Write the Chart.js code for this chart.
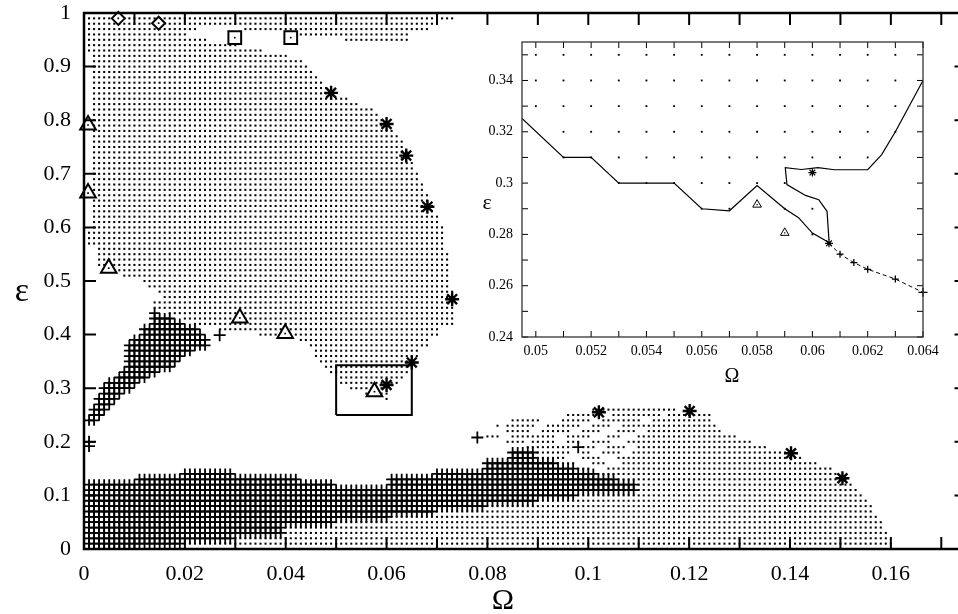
<!DOCTYPE html>
<html>
<head>
<meta charset="utf-8">
<title>Ω–ε map</title>
<script src="https://cdn.jsdelivr.net/npm/chart.js@4.4.1/dist/chart.umd.min.js"></script>
<style>
  html, body { margin:0; padding:0; background:#fff; overflow:hidden; }
  #stage { position:relative; width:958px; height:614px; overflow:hidden; background:#fff; }
  #mainBox { position:absolute; left:0; top:0; width:980px; height:614px; }
  #insetBox { position:absolute; left:460px; top:30px; width:490px; height:365px; }
</style>
</head>
<body>
<div id="stage">
  <div id="mainBox"><canvas id="main" width="980" height="614"></canvas></div>
  <div id="insetBox"><canvas id="inset" width="490" height="365"></canvas></div>
</div>
<script>
// ---------------- data ----------------
// spacing of the simulation grid in Ω (dots / crosses sit on it)
const gridStep = 0.001;

// big dotted region (upper blob): [ε, Ω from, Ω to]
const upperDotRuns = [
  [0.99,0.001,0.073],[0.98,0.001,0.070],[0.97,0.001,0.022],[0.97,0.032,0.068],
  [0.96,0.001,0.020],[0.96,0.042,0.064],[0.95,0.001,0.024],[0.95,0.052,0.064],
  [0.94,0.001,0.030],[0.93,0.001,0.035],[0.92,0.002,0.040],[0.91,0.002,0.043],
  [0.90,0.002,0.044],[0.89,0.002,0.045],[0.88,0.002,0.046],[0.87,0.002,0.047],
  [0.86,0.002,0.048],[0.85,0.002,0.049],[0.84,0.002,0.052],[0.83,0.002,0.054],
  [0.82,0.002,0.057],[0.81,0.002,0.058],[0.80,0.002,0.059],[0.79,0.002,0.060],
  [0.78,0.002,0.061],[0.77,0.002,0.062],[0.76,0.002,0.063],[0.75,0.002,0.063],
  [0.74,0.002,0.064],[0.73,0.002,0.064],[0.72,0.002,0.065],[0.71,0.002,0.065],
  [0.70,0.002,0.066],[0.69,0.002,0.066],[0.68,0.002,0.067],[0.67,0.002,0.067],
  [0.66,0.002,0.068],[0.65,0.002,0.068],[0.64,0.002,0.069],[0.63,0.002,0.069],
  [0.62,0.002,0.070],[0.61,0.002,0.070],[0.60,0.002,0.071],[0.59,0.001,0.071],
  [0.58,0.001,0.071],[0.57,0.001,0.071],[0.56,0.003,0.071],[0.55,0.003,0.072],
  [0.54,0.003,0.072],[0.53,0.003,0.072],[0.52,0.006,0.072],[0.51,0.008,0.072],
  [0.50,0.012,0.072],[0.49,0.013,0.072],[0.48,0.015,0.073],[0.47,0.016,0.073],
  [0.46,0.014,0.073],[0.45,0.014,0.073],[0.44,0.017,0.073],[0.43,0.020,0.073],
  [0.42,0.022,0.073],[0.41,0.027,0.070],[0.40,0.035,0.070],[0.39,0.043,0.068],
  [0.38,0.045,0.068],[0.37,0.046,0.066],[0.36,0.046,0.066],[0.35,0.047,0.065],
  [0.34,0.048,0.064],[0.33,0.049,0.064],[0.32,0.051,0.063],[0.31,0.051,0.062],
  [0.30,0.053,0.059],[0.29,0.056,0.057],[0.29,0.059,0.060],[0.28,0.060,0.060]
];

// lower dotted band: [ε, Ω from, Ω to]
const lowerDotRuns = [
  [0.00,0.010,0.160],[0.01,0.020,0.160],[0.02,0.030,0.159],[0.03,0.040,0.159],
  [0.04,0.040,0.158],[0.05,0.050,0.158],[0.06,0.061,0.157],[0.07,0.070,0.156],
  [0.08,0.080,0.156],[0.09,0.090,0.155],[0.10,0.098,0.154],[0.11,0.110,0.153],
  [0.12,0.110,0.152],[0.13,0.106,0.151],[0.14,0.102,0.149],
  [0.15,0.098,0.100],[0.15,0.104,0.148],
  [0.16,0.094,0.097],[0.16,0.101,0.103],[0.16,0.107,0.145],
  [0.17,0.090,0.095],[0.17,0.099,0.102],[0.17,0.106,0.142],
  [0.18,0.090,0.096],[0.18,0.099,0.100],[0.18,0.103,0.106],[0.18,0.109,0.139],
  [0.19,0.088,0.096],[0.19,0.099,0.101],[0.19,0.104,0.107],[0.19,0.110,0.135],
  [0.20,0.084,0.087],[0.20,0.089,0.093],[0.20,0.096,0.098],[0.20,0.101,0.104],[0.20,0.108,0.132],
  [0.21,0.080,0.082],[0.21,0.085,0.093],[0.21,0.096,0.100],[0.21,0.104,0.106],[0.21,0.110,0.129],
  [0.22,0.084,0.088],[0.22,0.091,0.096],[0.22,0.099,0.102],[0.22,0.106,0.109],[0.22,0.112,0.126],
  [0.23,0.082,0.082],[0.23,0.084,0.089],[0.23,0.092,0.098],[0.23,0.101,0.104],[0.23,0.107,0.125],
  [0.24,0.085,0.090],[0.24,0.095,0.100],[0.24,0.103,0.110],[0.24,0.113,0.124],
  [0.25,0.096,0.101],[0.25,0.105,0.114],[0.25,0.116,0.124],
  [0.26,0.101,0.117]
];

// lower band of crosses: [ε, Ω from, Ω to]
const lowerCrossRuns = [
  [0.00,0.001,0.009],[0.01,0.001,0.019],[0.02,0.001,0.029],[0.03,0.001,0.039],
  [0.04,0.001,0.039],[0.05,0.001,0.049],[0.06,0.001,0.060],[0.07,0.001,0.069],
  [0.08,0.001,0.079],[0.09,0.001,0.089],[0.10,0.001,0.097],[0.11,0.001,0.109],
  [0.12,0.001,0.049],[0.12,0.061,0.109],[0.13,0.011,0.042],[0.13,0.061,0.105],
  [0.14,0.020,0.029],[0.14,0.070,0.101],[0.15,0.080,0.097],[0.16,0.080,0.093],
  [0.17,0.085,0.089],[0.18,0.085,0.089]
];

// wedge of crosses near Ω≈0.01, ε≈0.25–0.44: [ε, Ω from, Ω to]
const wedgeCrossRuns = [
  [0.44,0.014,0.014],[0.43,0.014,0.017],[0.42,0.014,0.019],[0.41,0.012,0.022],
  [0.40,0.012,0.023],[0.39,0.010,0.024],[0.38,0.009,0.024],[0.37,0.009,0.021],
  [0.36,0.009,0.019],[0.35,0.009,0.018],[0.34,0.009,0.017],[0.33,0.008,0.014],
  [0.32,0.007,0.012],[0.31,0.005,0.010],[0.30,0.004,0.009],[0.29,0.004,0.007],
  [0.28,0.003,0.006],[0.27,0.003,0.005],[0.26,0.002,0.004],[0.25,0.002,0.003],
  [0.24,0.001,0.002]
];

// single markers in the main plot
const crossOmega    = [0.0269, 0.001, 0.001, 0.078, 0.098];
const crossEps      = [0.399, 0.200, 0.192, 0.208, 0.190];
const starOmega     = [0.049, 0.060, 0.0639, 0.0681, 0.073, 0.065, 0.060, 0.1021, 0.1201, 0.1402, 0.1504];
const starEps       = [0.851, 0.793, 0.734, 0.6386, 0.466, 0.348, 0.306, 0.255, 0.2574, 0.1785, 0.132];
const triangleOmega = [0.0008, 0.0008, 0.0049, 0.0309, 0.0399, 0.0576];
const triangleEps   = [0.791, 0.664, 0.524, 0.431, 0.402, 0.2935];
const squareOmega   = [0.0299, 0.0410];
const squareEps     = [0.954, 0.954];
const diamondOmega  = [0.0068, 0.0148];
const diamondEps    = [0.990, 0.981];

// zoom window drawn in the main plot
const zoomBoxOmega = [0.050, 0.065, 0.065, 0.050, 0.050];
const zoomBoxEps   = [0.250, 0.250, 0.343, 0.343, 0.250];

// inset: grid dots [ε, Ω from, Ω to]
const insetDotRuns = [
  [0.35,0.050,0.063],[0.34,0.050,0.063],[0.33,0.050,0.063],[0.32,0.051,0.063],
  [0.31,0.051,0.062],[0.30,0.053,0.059],[0.29,0.056,0.057],[0.29,0.059,0.060],
  [0.28,0.060,0.060]
];
// inset: lower boundary (solid)
const boundAOmega = [0.0495, 0.051, 0.052, 0.053, 0.055, 0.056, 0.057, 0.058, 0.059, 0.0595, 0.060, 0.0606];
const boundAEps   = [0.3252, 0.310, 0.310, 0.300, 0.300, 0.290, 0.2892, 0.299, 0.290, 0.2865, 0.2805, 0.2768];
// inset: loop and right boundary (solid)
const boundBOmega = [0.0606, 0.06053, 0.06023, 0.05975, 0.05908, 0.05902, 0.0596, 0.0602, 0.0608, 0.062, 0.0625, 0.063, 0.064];
const boundBEps   = [0.2778, 0.289, 0.2935, 0.2952, 0.2994, 0.306, 0.3053, 0.306, 0.3052, 0.3052, 0.311, 0.320, 0.340];
// inset: dashed continuation with + markers
const dashOmega = [0.0606, 0.061, 0.0615, 0.062, 0.063, 0.064];
const dashEps   = [0.2765, 0.2723, 0.269, 0.2664, 0.2626, 0.2574];
const insetStarOmega = [0.0600, 0.0606];
const insetStarEps   = [0.3041, 0.2765];
const insetTriOmega  = [0.058, 0.059];
const insetTriEps    = [0.2916, 0.2806];

// axis ranges
const mainOmegaRange = [0, 0.175];
const mainEpsRange   = [0, 1];
const insetOmegaRange = [0.0495, 0.064];
const insetEpsRange   = [0.24, 0.355];

// ---------------- helpers ----------------
const SERIF = '"Liberation Serif", "DejaVu Serif", serif';
function expandRuns(runs) {
  const pts = [];
  for (const [eps, from, to] of runs) {
    const n = Math.round((to - from) / gridStep);
    for (let i = 0; i <= n; i++) pts.push({ x: +(from + i * gridStep).toFixed(4), y: eps });
  }
  return pts;
}
const pair = (xs, ys) => xs.map((x, i) => ({ x, y: ys[i] }));
const trimNum = (v, d) => String(parseFloat(v.toFixed(d)));

const framePlugin = {
  id: 'frame',
  beforeDraw(chart) {
    const { ctx, width, height } = chart;
    ctx.save(); ctx.fillStyle = '#fff'; ctx.fillRect(0, 0, width, height); ctx.restore();
  },
  afterDatasetsDraw(chart, args, o) {
    const { ctx, chartArea: a, scales: { x, y } } = chart;
    ctx.save();
    ctx.strokeStyle = '#000';
    ctx.lineWidth = o.tickWidth;
    ctx.beginPath();
    for (const t of x.ticks) {
      const p = x.getPixelForValue(t.value);
      ctx.moveTo(p, a.bottom); ctx.lineTo(p, a.bottom - o.tickLength);
      ctx.moveTo(p, a.top); ctx.lineTo(p, a.top + o.tickLength);
    }
    for (const t of y.ticks) {
      const p = y.getPixelForValue(t.value);
      ctx.moveTo(a.left, p); ctx.lineTo(a.left + o.tickLength, p);
      ctx.moveTo(a.right, p); ctx.lineTo(a.right - o.tickLength, p);
    }
    ctx.stroke();
    ctx.strokeStyle = o.frameColor;
    ctx.lineWidth = o.frameWidth;
    ctx.strokeRect(a.left, a.top, a.right - a.left, a.bottom - a.top);
    ctx.fillStyle = '#000';
    ctx.textAlign = 'center';
    ctx.textBaseline = 'middle';
    for (const t of o.titles) { ctx.font = t.font; ctx.fillText(t.text, t.x, t.y); }
    ctx.restore();
  }
};

function tickFont(size) { return { family: SERIF, size }; }
function fixX(h) { return s => { s.height = h; s.paddingLeft = 0; s.paddingRight = 0; }; }
function fixY(w) { return s => { s.width = w; s.paddingTop = 0; s.paddingBottom = 0; }; }

// ---------------- main chart ----------------
const mainDatasets = [
  { label: 'zoom window', data: pair(zoomBoxOmega, zoomBoxEps), showLine: true, borderColor: '#000', borderWidth: 2, pointRadius: 0, order: 0, clip: false },
  { label: 'marker centres', data: [...pair(triangleOmega, triangleEps), ...pair(squareOmega, squareEps), ...pair(diamondOmega, diamondEps)],
    pointStyle: 'rect', pointRadius: 1.2, backgroundColor: '#000', borderWidth: 0, order: 1, clip: false },
  { label: 'triangles', data: pair(triangleOmega, triangleEps), pointStyle: 'triangle', pointRadius: 9, borderWidth: 2, borderColor: '#000', backgroundColor: '#fff', order: 2, clip: false },
  { label: 'squares', data: pair(squareOmega, squareEps), pointStyle: 'rect', pointRadius: 9, borderWidth: 2, borderColor: '#000', backgroundColor: '#fff', order: 2, clip: false },
  { label: 'diamonds', data: pair(diamondOmega, diamondEps), pointStyle: 'rectRot', pointRadius: 6.5, borderWidth: 2, borderColor: '#000', backgroundColor: '#fff', order: 2, clip: false },
  { label: 'stars', data: pair(starOmega, starEps), pointStyle: 'star', pointRadius: 7, borderWidth: 2.4, borderColor: '#000', backgroundColor: '#000', order: 2, clip: false },
  { label: 'single crosses', data: pair(crossOmega, crossEps), pointStyle: 'cross', pointRadius: 6, borderWidth: 1.8, borderColor: '#000', order: 3, clip: false },
  { label: 'cross region', data: [...expandRuns(lowerCrossRuns), ...expandRuns(wedgeCrossRuns)], pointStyle: 'cross', pointRadius: 5.5, borderWidth: 1.8, borderColor: '#000', order: 5, clip: 0 },
  { label: 'dot region', data: [...expandRuns(upperDotRuns), ...expandRuns(lowerDotRuns)], pointStyle: 'rect', pointRadius: 1.45, backgroundColor: '#000', borderWidth: 0, order: 6, clip: false }
];

new Chart(document.getElementById('main'), {
  type: 'scatter',
  data: { datasets: mainDatasets },
  options: {
    responsive: false, animation: false, events: [],
    layout: { padding: { top: 13, right: 13.5, left: 0, bottom: 0 } },
    plugins: {
      legend: { display: false }, tooltip: { enabled: false },
      frame: {
        tickLength: 12, tickWidth: 2, frameWidth: 2.5, frameColor: '#000',
        titles: [
          { text: 'Ω', x: 503, y: 601, font: '30px ' + SERIF },
          { text: 'ε', x: 22, y: 292, font: '34px ' + SERIF }
        ]
      }
    },
    scales: {
      x: {
        type: 'linear', min: mainOmegaRange[0], max: mainOmegaRange[1],
        border: { display: false }, grid: { display: false, drawTicks: false },
        ticks: { stepSize: 0.01, includeBounds: false, autoSkip: false, maxRotation: 0, padding: 12,
                 color: '#000', font: tickFont(22),
                 callback: v => (Math.round(v * 100) % 2 ? '' : trimNum(v, 2)) },
        afterFit: fixX(65)
      },
      y: {
        type: 'linear', min: mainEpsRange[0], max: mainEpsRange[1],
        border: { display: false }, grid: { display: false, drawTicks: false },
        ticks: { stepSize: 0.1, includeBounds: false, autoSkip: false, padding: 13,
                 color: '#000', font: tickFont(22), callback: v => trimNum(v, 1) },
        afterFit: fixY(84)
      }
    }
  },
  plugins: [framePlugin]
});

// ---------------- inset chart ----------------
const insetDatasets = [
  { label: 'triangle centres', data: pair(insetTriOmega, insetTriEps), pointStyle: 'rect', pointRadius: 0.9, backgroundColor: '#000', borderWidth: 0, order: 0 },
  { label: 'triangles', data: pair(insetTriOmega, insetTriEps), pointStyle: 'triangle', pointRadius: 5, borderWidth: 1, borderColor: '#000', backgroundColor: '#fff', order: 1 },
  { label: 'stars', data: pair(insetStarOmega, insetStarEps), pointStyle: 'star', pointRadius: 4, borderWidth: 1.2, borderColor: '#000', order: 1 },
  { label: 'dashed', data: pair(dashOmega, dashEps), showLine: true, borderColor: '#000', borderWidth: 1, borderDash: [4, 3],
    pointStyle: 'cross', pointRadius: [0, 3.5, 3.5, 3.5, 3.5, 4.5], pointBorderWidth: 1.3, pointBorderColor: '#000', order: 2, clip: false },
  { label: 'boundary A', data: pair(boundAOmega, boundAEps), showLine: true, borderColor: '#000', borderWidth: 1.2, pointRadius: 0, order: 2 },
  { label: 'boundary B', data: pair(boundBOmega, boundBEps), showLine: true, borderColor: '#000', borderWidth: 1.2, pointRadius: 0, order: 2 },
  { label: 'dots', data: expandRuns(insetDotRuns), pointStyle: 'rect', pointRadius: 1.3, backgroundColor: '#000', borderWidth: 0, order: 3 }
];

new Chart(document.getElementById('inset'), {
  type: 'scatter',
  data: { datasets: insetDatasets },
  options: {
    responsive: false, animation: false, events: [],
    layout: { padding: { top: 12, right: 27, left: 0, bottom: 0 } },
    plugins: {
      legend: { display: false }, tooltip: { enabled: false },
      frame: {
        tickLength: 6, tickWidth: 1, frameWidth: 1.3, frameColor: '#333',
        titles: [
          { text: 'Ω', x: 272, y: 347, font: '20px ' + SERIF },
          { text: 'ε', x: 27, y: 173, font: '22px ' + SERIF }
        ]
      }
    },
    scales: {
      x: {
        type: 'linear', min: insetOmegaRange[0], max: insetOmegaRange[1],
        border: { display: false }, grid: { display: false, drawTicks: false },
        ticks: { stepSize: 0.001, includeBounds: false, autoSkip: false, maxRotation: 0, padding: 6,
                 color: '#000', font: tickFont(14),
                 callback: v => (Math.round(v * 1000) % 2 ? '' : trimNum(v, 3)) },
        afterFit: fixX(58)
      },
      y: {
        type: 'linear', min: insetEpsRange[0], max: insetEpsRange[1],
        border: { display: false }, grid: { display: false, drawTicks: false },
        ticks: { stepSize: 0.01, includeBounds: false, autoSkip: false, padding: 9,
                 color: '#000', font: tickFont(14),
                 callback: v => (Math.round(v * 100) % 2 ? '' : trimNum(v, 2)) },
        afterFit: fixY(62)
      }
    }
  },
  plugins: [framePlugin]
});
</script>
</body>
</html>
